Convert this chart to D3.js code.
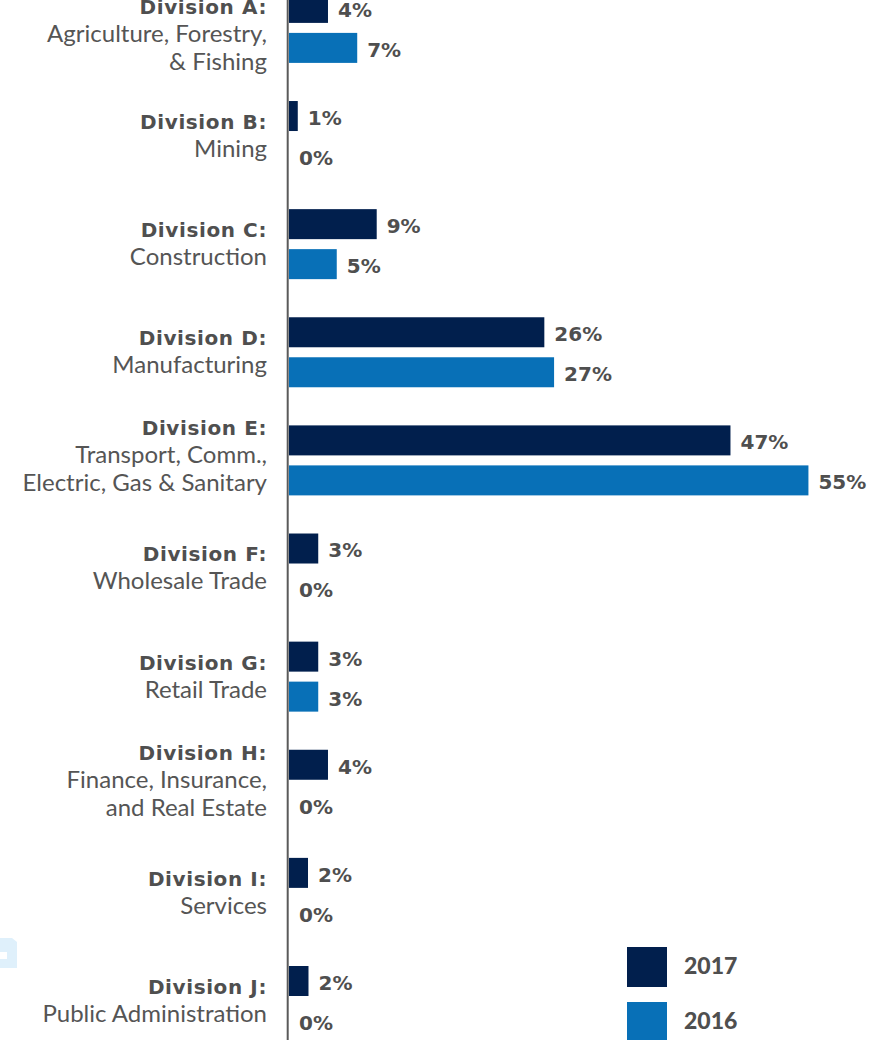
<!DOCTYPE html>
<html>
<head>
<meta charset="utf-8">
<script src="https://cdn.jsdelivr.net/npm/d3@7"></script>
<style>
  body { margin: 0; background: #fff; }
  svg { display: block; font-family: Lato, "Open Sans", sans-serif; }
  .bold { font-family: "DejaVu Sans", sans-serif; font-weight: bold; }
</style>
</head>
<body>
<svg id="chart" width="891" height="1040"></svg>
<script>
const divisions = ['A', 'B', 'C', 'D', 'E', 'F', 'G', 'H', 'I', 'J'];
const divisionNames = [
  ['Agriculture, Forestry,', '& Fishing'],
  ['Mining'],
  ['Construction'],
  ['Manufacturing'],
  ['Transport, Comm.,', 'Electric, Gas & Sanitary'],
  ['Wholesale Trade'],
  ['Retail Trade'],
  ['Finance, Insurance,', 'and Real Estate'],
  ['Services'],
  ['Public Administration']
];
const years = ['2017', '2016'];
const values2017 = [4, 0.9, 9, 26.2, 45.3, 3, 3, 4, 1.95, 2];
const values2016 = [7, 0, 4.9, 27.2, 53.3, 0, 3, 0, 0, 0];
const labels2017 = ['4%', '1%', '9%', '26%', '47%', '3%', '3%', '4%', '2%', '2%'];
const labels2016 = ['7%', '0%', '5%', '27%', '55%', '0%', '3%', '0%', '0%', '0%'];

const colors = { '2017': '#011f4d', '2016': '#0870b7' };
const textColor = '#4f4f4f';

const svg = d3.select('#chart');

// faint watermark piece on the left edge
svg.append('path')
  .attr('d', 'M0,938 L12,938 L17,942 L17,968 L0,968 Z M0,952 L0,959 L7,959 L7,952 Z')
  .attr('fill', '#dff0fb')
  .attr('fill-rule', 'evenodd');

const y = d3.scaleBand()
  .domain(divisions)
  .range([-7.1, 1036])
  .paddingInner(0.3526)
  .paddingOuter(0);

const yInner = d3.scaleBand()
  .domain(years)
  .range([0, y.bandwidth()])
  .paddingInner(0.25);

const x = d3.scaleLinear().domain([0, 55]).range([289, 825]);

const rows = divisions.map((d, i) => ({
  key: d,
  names: divisionNames[i],
  bars: [
    { year: '2017', value: values2017[i], label: labels2017[i] },
    { year: '2016', value: values2016[i], label: labels2016[i] }
  ]
}));

const groups = svg.selectAll('g.division')
  .data(rows)
  .join('g')
  .attr('class', 'division')
  .attr('transform', d => `translate(0,${y(d.key)})`);

groups.selectAll('rect')
  .data(d => d.bars)
  .join('rect')
  .attr('x', x(0))
  .attr('y', d => yInner(d.year))
  .attr('width', d => x(d.value) - x(0))
  .attr('height', yInner.bandwidth())
  .attr('fill', d => colors[d.year]);

groups.selectAll('text.value')
  .data(d => d.bars)
  .join('text')
  .attr('class', 'value bold')
  .attr('x', d => x(d.value) + 10)
  .attr('y', d => yInner(d.year) + yInner.bandwidth() / 2 + 9)
  .attr('fill', textColor)
  .attr('font-size', 20)
  .text(d => d.label);

// category labels, block kept below the top edge
const mid = y.bandwidth() / 2;
groups.each(function (d) {
  const lines = [{ t: `Division ${d.key}:`, bold: true }].concat(d.names.map(t => ({ t, bold: false })));
  const n = lines.length;
  let first = mid - 7 - (n - 2) * 18;
  const top = y(d.key) + first;
  if (top < 14) first += 14 - top;
  d3.select(this).selectAll('text.cat')
    .data(lines)
    .join('text')
    .attr('class', l => l.bold ? 'cat bold' : 'cat')
    .attr('x', 267)
    .attr('y', (l, i) => first + i * 28)
    .attr('text-anchor', 'end')
    .attr('fill', l => l.bold ? textColor : '#555')
    .attr('font-size', l => l.bold ? 20 : 24)
    .attr('letter-spacing', l => l.bold ? 0.6 : 0)
    .text(l => l.t);
});

// vertical axis line
svg.append('line')
  .attr('x1', 287.7).attr('x2', 287.7)
  .attr('y1', 0).attr('y2', 1040)
  .attr('stroke', '#5a5a5a')
  .attr('stroke-width', 2);

// legend
const legend = svg.append('g').attr('transform', 'translate(627,947)');
const ly = d3.scalePoint().domain(years).range([0, 55]);
const items = legend.selectAll('g').data(years).join('g')
  .attr('transform', d => `translate(0,${ly(d)})`);
items.append('rect').attr('width', 40).attr('height', 40).attr('fill', d => colors[d]);
items.append('text')
  .attr('x', 57).attr('y', 27)
  .attr('fill', textColor)
  .attr('font-size', 23)
  .attr('font-weight', 900)
  .text(d => d);
</script>
</body>
</html>
